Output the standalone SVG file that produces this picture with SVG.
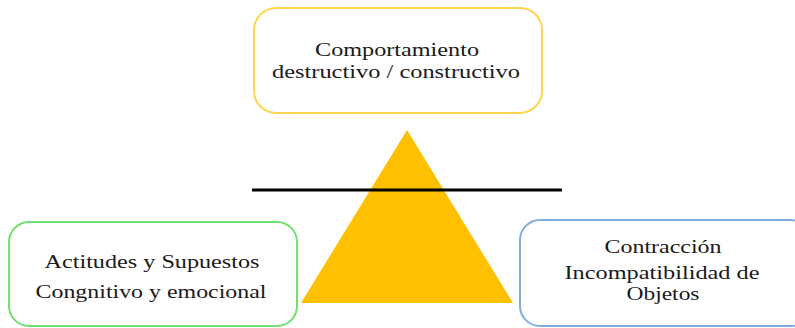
<svg xmlns="http://www.w3.org/2000/svg" width="795" height="328" viewBox="0 0 795 328">
<style>
.box{fill:#fff;stroke-width:2}
.t{font-family:"Liberation Serif","Times New Roman",serif;font-size:19px;fill:#1a1a1a;text-anchor:middle}
.s{font-size:18px}
</style>
<rect width="795" height="328" fill="#fff"/>
<g id="triangle"><polygon points="407,130 301,303 513,303" fill="#FFC000"/></g>
<g id="connectors"><line x1="252" y1="190" x2="562" y2="190" stroke="#000" stroke-width="3"/></g>
<g id="top">
<rect class="box" x="254" y="8" width="288" height="105" rx="22" stroke="#FFD54F"/>
<text class="t s" x="397" y="56" textLength="164" lengthAdjust="spacingAndGlyphs">Comportamiento</text>
<text class="t s" x="396" y="78" textLength="248" lengthAdjust="spacingAndGlyphs">destructivo / constructivo</text>
</g>
<g id="left">
<rect class="box" x="9" y="222" width="288" height="104" rx="20" stroke="#6EE06E"/>
<text class="t" x="152" y="268" textLength="215" lengthAdjust="spacingAndGlyphs">Actitudes y Supuestos</text>
<text class="t" x="151" y="298" textLength="231" lengthAdjust="spacingAndGlyphs">Congnitivo y emocional</text>
</g>
<g id="right">
<rect class="box" x="520" y="220" width="290" height="106" rx="20" stroke="#7FAEDE"/>
<text class="t" x="663" y="253" textLength="117" lengthAdjust="spacingAndGlyphs">Contracción</text>
<text class="t s" x="662" y="279" textLength="195" lengthAdjust="spacingAndGlyphs">Incompatibilidad de</text>
<text class="t s" x="663" y="300" textLength="73" lengthAdjust="spacingAndGlyphs">Objetos</text>
</g>
</svg>
